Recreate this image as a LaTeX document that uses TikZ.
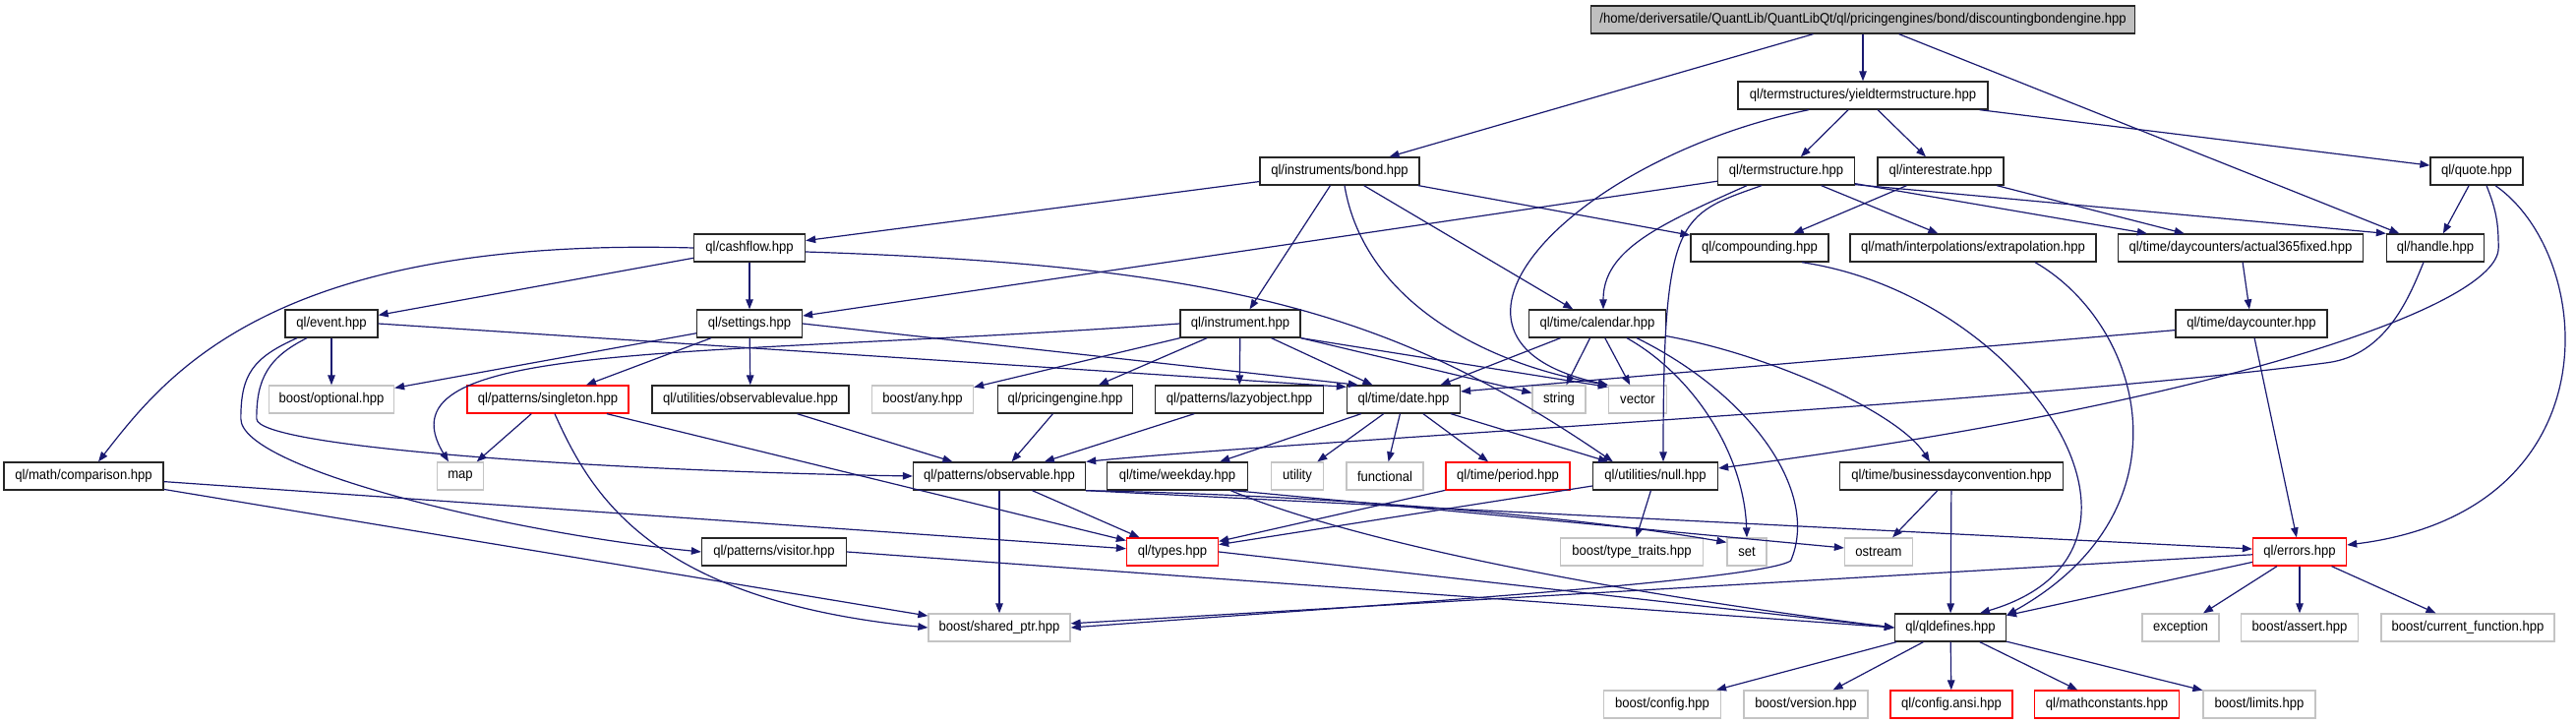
\documentclass[tikz,border=0pt]{standalone}
\usepackage{fontspec}
\setmainfont{Liberation Sans}[FakeStretch=0.92]
\usetikzlibrary{arrows.meta,calc}
\definecolor{edgeblue}{HTML}{191970}
\definecolor{boxgray}{HTML}{C4C4C4}
\definecolor{rootfill}{HTML}{BFBFBF}
\begin{document}
\begin{tikzpicture}[x=1pt,y=-1pt,
 nd/.style={font=\fontsize{14.2}{16}\selectfont, minimum height=28pt, inner xsep=2pt, inner ysep=0pt, line width=1.3pt, text=black},
 fbox/.style={nd, draw=black!85},
 gbox/.style={nd, draw=boxgray},
 rbox/.style={nd, draw=red},
 rootbox/.style={nd, draw=black!85, fill=rootfill},
 e/.style={draw=edgeblue, line width=1.2pt, -{Triangle[length=10pt,width=7.5pt]}}]
\useasboundingbox (0,0) rectangle (2619,736);
\fill[white] (0,0) rectangle (2619,736);
% row 0
\node[rootbox, minimum width=553pt] (root) at (1894,20) {/home/deriversatile/QuantLib/QuantLibQt/ql/pricingengines/bond/discountingbondengine.hpp};
% row 1
\node[fbox, minimum width=254pt] (yield) at (1894,97) {ql/termstructures/yieldtermstructure.hpp};
% row 2
\node[fbox, minimum width=162pt] (bond) at (1362,174) {ql/instruments/bond.hpp};
\node[fbox, minimum width=139pt] (termstructure) at (1816,174) {ql/termstructure.hpp};
\node[fbox, minimum width=128pt] (interestrate) at (1973,174) {ql/interestrate.hpp};
\node[fbox, minimum width=94pt] (quote) at (2518,174) {ql/quote.hpp};
% row 3
\node[fbox, minimum width=113pt] (cashflow) at (762,252) {ql/cashflow.hpp};
\node[fbox, minimum width=140pt] (compounding) at (1789,252) {ql/compounding.hpp};
\node[fbox, minimum width=250pt] (extrapolation) at (2006,252) {ql/math/interpolations/extrapolation.hpp};
\node[fbox, minimum width=249pt] (actual) at (2278,252) {ql/time/daycounters/actual365fixed.hpp};
\node[fbox, minimum width=99pt] (handle) at (2476,252) {ql/handle.hpp};
% row 4
\node[fbox, minimum width=94pt] (event) at (337,329) {ql/event.hpp};
\node[fbox, minimum width=107pt] (settings) at (762,329) {ql/settings.hpp};
\node[fbox, minimum width=122pt] (instrument) at (1261,329) {ql/instrument.hpp};
\node[fbox, minimum width=139pt] (calendar) at (1624,329) {ql/time/calendar.hpp};
\node[fbox, minimum width=154pt] (daycounter) at (2289,329) {ql/time/daycounter.hpp};
% row 5
\node[gbox, minimum width=127pt] (optional) at (337,406) {boost/optional.hpp};
\node[rbox, minimum width=164pt] (singleton) at (557,406) {ql/patterns/singleton.hpp};
\node[fbox, minimum width=200pt] (observablevalue) at (763,406) {ql/utilities/observablevalue.hpp};
\node[gbox, minimum width=103pt] (any) at (938,406) {boost/any.hpp};
\node[fbox, minimum width=137pt] (pricingengine) at (1083,406) {ql/pricingengine.hpp};
\node[fbox, minimum width=171pt] (lazyobject) at (1260,406) {ql/patterns/lazyobject.hpp};
\node[fbox, minimum width=115pt] (date) at (1427,406) {ql/time/date.hpp};
\node[gbox, minimum width=54pt] (string) at (1585,406) {string};
\node[gbox, minimum width=59pt] (vector) at (1665,406) {vector};
% row 6
\node[fbox, minimum width=162pt] (comparison) at (85,484) {ql/math/comparison.hpp};
\node[gbox, minimum width=47pt] (map) at (468,484) {map};
\node[fbox, minimum width=175pt] (observable) at (1016,484) {ql/patterns/observable.hpp};
\node[fbox, minimum width=143pt] (weekday) at (1197,484) {ql/time/weekday.hpp};
\node[gbox, minimum width=53pt] (utility) at (1319,484) {utility};
\node[gbox, minimum width=78pt] (functional) at (1408,484) {functional};
\node[rbox, minimum width=126pt] (period) at (1533,484) {ql/time/period.hpp};
\node[fbox, minimum width=127pt] (null) at (1683,484) {ql/utilities/null.hpp};
\node[fbox, minimum width=227pt] (bdc) at (1984,484) {ql/time/businessdayconvention.hpp};
% row 7
\node[fbox, minimum width=147pt] (visitor) at (787,561) {ql/patterns/visitor.hpp};
\node[rbox, minimum width=93pt] (types) at (1192,561) {ql/types.hpp};
\node[gbox, minimum width=145pt] (typetraits) at (1659,561) {boost/type\_traits.hpp};
\node[gbox, minimum width=40pt] (set) at (1776,561) {set};
\node[gbox, minimum width=69pt] (ostream) at (1910,561) {ostream};
\node[rbox, minimum width=95pt] (errors) at (2338,561) {ql/errors.hpp};
% row 8
\node[gbox, minimum width=144pt] (sharedptr) at (1016,638) {boost/shared\_ptr.hpp};
\node[fbox, minimum width=113pt] (qldefines) at (1983,638) {ql/qldefines.hpp};
\node[gbox, minimum width=78pt] (exception) at (2217,638) {exception};
\node[gbox, minimum width=119pt] (assert) at (2338,638) {boost/assert.hpp};
\node[gbox, minimum width=176pt] (currentfunction) at (2509,638) {boost/current\_function.hpp};
% row 9
\node[gbox, minimum width=119pt] (config) at (1690,716) {boost/config.hpp};
\node[gbox, minimum width=126pt] (version) at (1836,716) {boost/version.hpp};
\node[rbox, minimum width=124pt] (configansi) at (1984,716) {ql/config.ansi.hpp};
\node[rbox, minimum width=147pt] (mathconstants) at (2142,716) {ql/mathconstants.hpp};
\node[gbox, minimum width=114pt] (limits) at (2297,716) {boost/limits.hpp};

% ---- edges
\draw[e] (root) -- (bond);
\draw[e] (root) -- (yield);
\draw[e] (root) -- (handle);
\draw[e] (yield) -- (termstructure);
\draw[e] (yield) -- (interestrate);
\draw[e] (yield) -- (quote);
\draw[e] ($(yield.south)+(-55,0)$) .. controls +(-239,49) and +(-215,-47) .. (vector.north west);
\draw[e] (bond) -- (cashflow);
\draw[e] (bond) -- (instrument);
\draw[e] (bond) -- (calendar);
\draw[e] (bond) -- (compounding);
\draw[e] ($(bond.south)+(5,0)$) .. controls +(20,120) and +(-120,-20) .. (vector.north west);
\draw[e] (termstructure) -- (settings);
\draw[e] ($(termstructure.south)+(-40,0)$) .. controls +(-90,40) and +(0,-60) .. ($(calendar.north)+(6,0)$);
\draw[e] ($(termstructure.south)+(-25,0)$) .. controls +(-85,30) and +(0,-250) .. ($(null.north)+(8,0)$);
\draw[e] (termstructure) -- (extrapolation);
\draw[e] ($(termstructure.south east)+(0,-2)$) -- ($(actual.north west)+(30,0)$);
\draw[e] ($(termstructure.south east)+(0,-1)$) -- (handle.north west);
\draw[e] (interestrate) -- (compounding);
\draw[e] (interestrate) -- (actual);
\draw[e] (quote) -- (handle);
\draw[e] ($(quote.south)+(10,0)$) .. controls +(10,25) and +(0,-25) .. ($(handle.east)+(14,0)$)
   .. controls +(0,60) and +(504,-66) .. ($(null.east)+(0,-8)$);
\draw[e] ($(quote.south)+(19,0)$) .. controls +(103,72) and +(274,-34) .. ($(errors.east)+(0,-7)$);
\draw[e] (cashflow) -- (event);
\draw[e] (cashflow) -- (settings);
\draw[e] (cashflow.west) .. controls +(-426,-12) and +(70,-90) .. ($(comparison.north)+(15,0)$);
\draw[e] ($(cashflow.east)+(0,4)$) .. controls +(431,14) and +(-220,-150) .. ($(null.north west)+(21,0)$);
\draw[e] (event) -- (optional);
\draw[e] (event.east) -- ($(date.north west)+(0,2)$);
\draw[e] ($(event.south)+(-25,0)$) .. controls +(-40,20) and +(0,-40) .. ($(optional.south west)+(-12,5)$)
   .. controls +(0,30) and +(-300,-5) .. (observable.west);
\draw[e] ($(event.south)+(-35,0)$) .. controls +(-45,20) and +(0,-45) .. ($(optional.south west)+(-28,5)$)
   .. controls +(0,50) and +(-200,-20) .. (visitor.west);
\draw[e] (settings) -- (optional);
\draw[e] (settings) -- (singleton);
\draw[e] (settings) -- (observablevalue);
\draw[e] (settings.east) -- ($(date.north west)+(12,0)$);
\draw[e] (instrument.west) .. controls +(-500,36) and +(-76,-125) .. ($(map.north)+(-12,0)$);
\draw[e] (instrument) -- (any);
\draw[e] (instrument) -- (pricingengine);
\draw[e] (instrument) -- (lazyobject);
\draw[e] (instrument) -- (date);
\draw[e] (instrument) -- (string);
\draw[e] (instrument.south east) -- ($(vector.north west)+(0,2)$);
\draw[e] (calendar) -- (date);
\draw[e] (calendar) -- (string);
\draw[e] (calendar) -- (vector);
\draw[e] ($(calendar.south)+(30,0)$) .. controls +(66,37) and +(-3,-87) .. (set.north);
\draw[e] ($(calendar.south)+(40,0)$) .. controls +(116,57) and +(30,-70) .. ($(set.east)+(24,9)$)
   .. controls +(-30,20) and +(312,-23) .. (sharedptr.east);
\draw[e] ($(calendar.south east)+(0,-2)$) .. controls +(106,19) and +(-32,-50) .. ($(bdc.north)+(-22,0)$);
\draw[e] (actual) -- (daycounter);
\draw[e] (daycounter) -- ($(date.east)+(0,-8)$);
\draw[e] (daycounter) -- (errors);
\draw[e] ($(handle.south)+(-12,0)$) .. controls +(-14,34) and +(60,-8) .. ($(daycounter.south east)+(0,25)$)
   .. controls +(-300,40) and +(200,-20) .. (observable.north east);
\draw[e] (singleton) -- (map);
\draw[e] ($(singleton.south)+(7,0)$) .. controls +(36,80) and +(-284,-28) .. (sharedptr.west);
\draw[e] (singleton) -- (types);
\draw[e] (comparison) -- (types);
\draw[e] (comparison) -- (sharedptr);
\draw[e] (observablevalue) -- (observable);
\draw[e] (pricingengine) -- (observable);
\draw[e] (lazyobject) -- (observable);
\draw[e] (date) -- (weekday);
\draw[e] (date) -- (utility);
\draw[e] (date) -- (functional);
\draw[e] (date) -- (period);
\draw[e] (date) -- (null);
\draw[e] (observable) -- (types);
\draw[e] (observable) -- (sharedptr);
\draw[e] (observable.south east) .. controls +(247,5) and +(-156,-27) .. ($(set.north west)+(0,5)$);
\draw[e] (observable.south east) -- ($(errors.west)+(0,-3)$);
\draw[e] ($(weekday.south east)+(-15,0)$) -- ($(ostream.west)+(0,-4)$);
\draw[e] ($(weekday.south east)+(-18,0)$) .. controls +(150,62) and +(-227,-28) .. (qldefines.west);
\draw[e] (period) -- (types);
\draw[e] (null) -- (types);
\draw[e] (null) -- (typetraits);
\draw[e] (bdc) -- (ostream);
\draw[e] (bdc) -- (qldefines);
\draw[e] (visitor.east) -- (qldefines.west);
\draw[e] (types.east) -- (qldefines.west);
\draw[e] ($(compounding.south)+(43,0)$) .. controls +(228,34) and +(217,-64) .. ($(qldefines.north)+(30,0)$);
\draw[e] ($(extrapolation.south)+(63,0)$) .. controls +(111,64) and +(190,-106) .. ($(qldefines.north east)+(0,2)$);
\draw[e] (errors) -- (qldefines);
\draw[e] (errors) -- (sharedptr);
\draw[e] (errors) -- (exception);
\draw[e] (errors) -- (assert);
\draw[e] (errors) -- (currentfunction);
\draw[e] (qldefines) -- (config);
\draw[e] (qldefines) -- (version);
\draw[e] (qldefines) -- (configansi);
\draw[e] (qldefines) -- (mathconstants);
\draw[e] (qldefines) -- (limits);
\end{tikzpicture}
\end{document}
